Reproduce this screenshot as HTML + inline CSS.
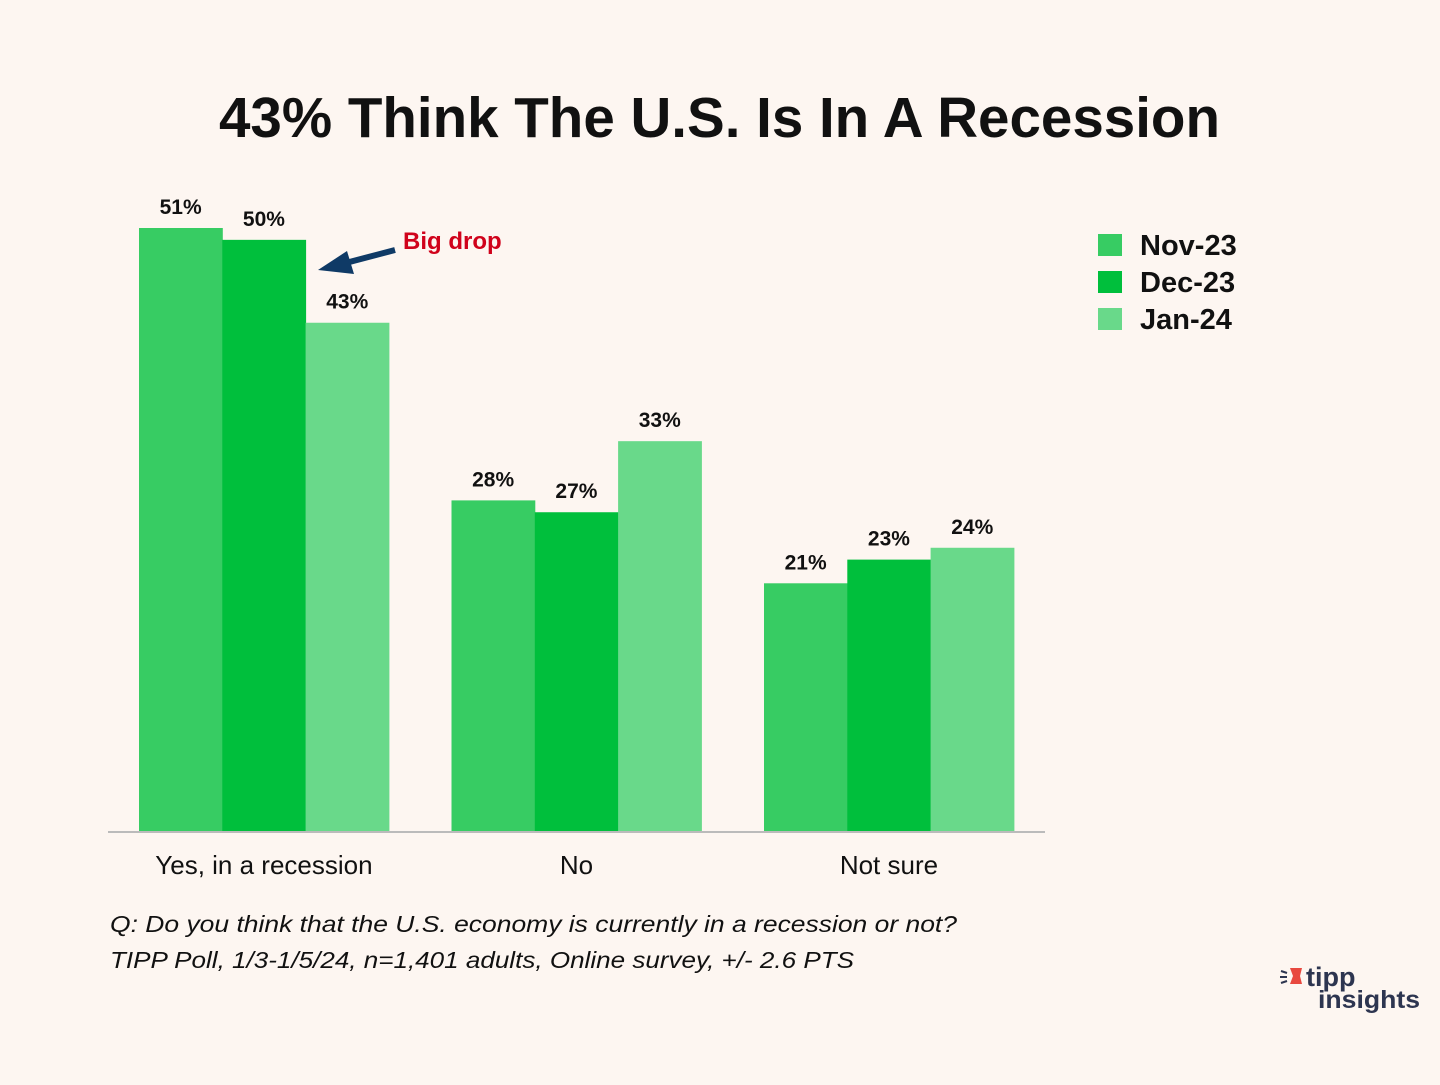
<!DOCTYPE html>
<html><head><meta charset="utf-8"><style>
body{margin:0;background:#fdf6f1;}
svg text{font-family:"Liberation Sans",sans-serif;}
</style></head><body>
<svg id="chart" width="1440" height="1080" xmlns="http://www.w3.org/2000/svg">
<rect width="1440" height="1080" fill="#fdf6f1"/>
<text x="219" y="137" textLength="1001" lengthAdjust="spacingAndGlyphs" font-size="57" font-weight="bold" fill="#111">43% Think The U.S. Is In A Recession</text>
<g id="bars"></g>
<line x1="108" y1="832" x2="1045" y2="832" stroke="#bbb" stroke-width="2"/>
<g id="xlabels"></g>
<g>
<line x1="395" y1="250" x2="338" y2="265" stroke="#0f3a66" stroke-width="6"/>
<polygon points="318,270 347,251 354,274" fill="#0f3a66"/>
<text x="403" y="249" font-size="24" font-weight="bold" fill="#d0021b">Big drop</text>
</g>
<g id="legend"></g>
<text x="110" y="932" textLength="847" lengthAdjust="spacingAndGlyphs" font-size="23" font-style="italic" fill="#111">Q:  Do you think that the U.S. economy is currently in a recession or not?</text>
<text x="110" y="968" textLength="744" lengthAdjust="spacingAndGlyphs" font-size="23" font-style="italic" fill="#111">TIPP Poll, 1/3-1/5/24, n=1,401 adults, Online survey, +/- 2.6 PTS</text>
<g>
<polygon points="1290,968 1302,968 1300,976 1302,984 1290,984 1293,976" fill="#e8483f"/>
<line x1="1281" y1="971" x2="1287" y2="973" stroke="#2d3550" stroke-width="2"/>
<line x1="1280" y1="977" x2="1287" y2="977" stroke="#2d3550" stroke-width="2"/>
<line x1="1281" y1="983" x2="1287" y2="981" stroke="#2d3550" stroke-width="2"/>
<text x="1306" y="986" font-size="27" font-weight="bold" fill="#2d3550">tipp</text>
<text x="1318" y="1008" textLength="102" lengthAdjust="spacingAndGlyphs" font-size="25" font-weight="bold" fill="#2d3550">insights</text>
</g>
</svg>
<script>
const categories=["Yes, in a recession","No","Not sure"];
const seriesNames=["Nov-23","Dec-23","Jan-24"];
const nov23=[51,28,21];
const dec23=[50,27,23];
const jan24=[43,33,24];
const colors=["#37cc63","#00bf3c","#69d98a"];
const series=[nov23,dec23,jan24];
const NS="http://www.w3.org/2000/svg";
const base=832, pxPer=604/51, groupStart=139, groupStep=312.5, barW=83.3;
const y=v=>base-v*pxPer;
const xb=(c,s)=>groupStart+c*groupStep+s*barW;
const bars=document.getElementById('bars');
series.forEach((vals,s)=>{vals.forEach((v,c)=>{
 const r=document.createElementNS(NS,'rect');
 r.setAttribute('x',xb(c,s));r.setAttribute('y',y(v));r.setAttribute('width',barW+0.5);r.setAttribute('height',base-y(v));r.setAttribute('fill',colors[s]);
 
 
 bars.appendChild(r);
 const t=document.createElementNS(NS,'text');
 t.setAttribute('x',xb(c,s)+barW/2);t.setAttribute('y',y(v)-14);t.setAttribute('text-anchor','middle');t.setAttribute('font-size','21');t.setAttribute('font-weight','bold');t.setAttribute('fill','#111');
 t.textContent=v+'%';
 
 
 bars.appendChild(t);
});});
const xl=document.getElementById('xlabels');
categories.forEach((c,i)=>{
 const t=document.createElementNS(NS,'text');
 t.setAttribute('x',groupStart+i*groupStep+1.5*barW);t.setAttribute('y',874);t.setAttribute('text-anchor','middle');t.setAttribute('font-size','26');t.setAttribute('fill','#111');
 t.textContent=c;
 
 
 xl.appendChild(t);
});
const lg=document.getElementById('legend');
seriesNames.forEach((n,i)=>{
 const r=document.createElementNS(NS,'rect');
 r.setAttribute('x',1098);r.setAttribute('y',234+i*37);r.setAttribute('width',24);r.setAttribute('height',22);r.setAttribute('fill',colors[i]);
 
 
 lg.appendChild(r);
 const t=document.createElementNS(NS,'text');
 t.setAttribute('x',1140);t.setAttribute('y',255+i*37);t.setAttribute('font-size','29');t.setAttribute('font-weight','bold');t.setAttribute('fill','#111');
 t.textContent=n;
 
 
 lg.appendChild(t);
});
</script>
</body></html>
